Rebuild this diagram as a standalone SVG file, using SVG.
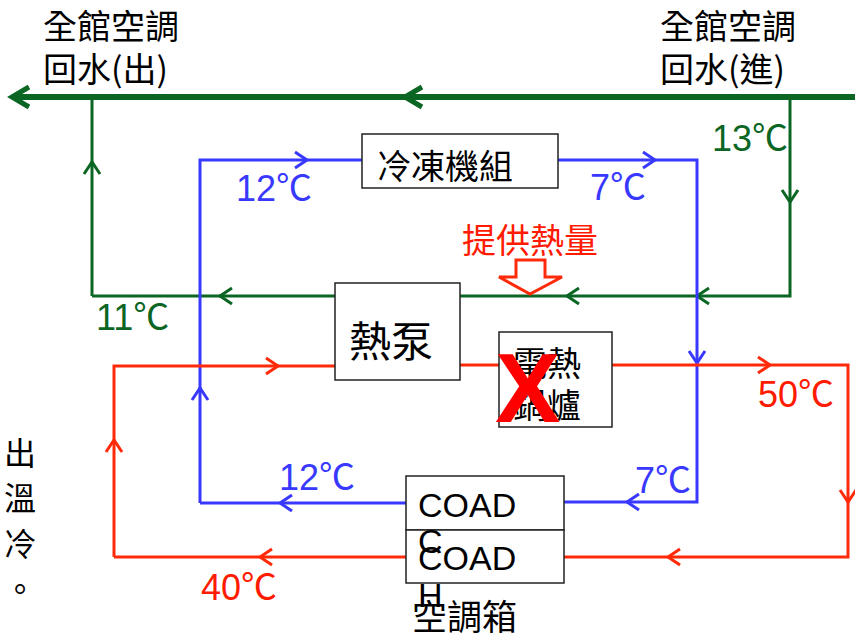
<svg xmlns="http://www.w3.org/2000/svg" width="855" height="636" viewBox="0 0 855 636">
<style>
.g{fill:none;stroke:#0b6623;stroke-width:3}
.gm{fill:none;stroke:#0b6623;stroke-width:6}
.b{fill:none;stroke:#3838ff;stroke-width:3}
.r{fill:none;stroke:#ff2a0a;stroke-width:3}
.box{fill:#fff;stroke:#222;stroke-width:1.5}
.cjk{font-family:"Noto Sans CJK TC","Noto Sans CJK SC",sans-serif;fill:#000}
.lat{font-family:"Liberation Sans","Noto Sans CJK TC",sans-serif}
.tg{fill:#0b6623}.tb{fill:#3838ff}.tr{fill:#ff1a00}
</style>
<defs>
<marker id="ag" viewBox="-14 -11 16 22" refX="0" refY="0" markerWidth="16" markerHeight="22" markerUnits="userSpaceOnUse" orient="auto" overflow="visible"><path d="M-12,-8 L0,0 L-12,8" fill="none" stroke="#0b6623" stroke-width="3"/></marker>
<marker id="agm" viewBox="-20 -13 22 26" refX="0" refY="0" markerWidth="22" markerHeight="26" markerUnits="userSpaceOnUse" orient="auto" overflow="visible"><path d="M-17,-10 L0,0 L-17,10" fill="none" stroke="#0b6623" stroke-width="5"/></marker>
<marker id="ab" viewBox="-14 -11 16 22" refX="0" refY="0" markerWidth="16" markerHeight="22" markerUnits="userSpaceOnUse" orient="auto" overflow="visible"><path d="M-12,-8 L0,0 L-12,8" fill="none" stroke="#3838ff" stroke-width="3"/></marker>
<marker id="ar" viewBox="-14 -11 16 22" refX="0" refY="0" markerWidth="16" markerHeight="22" markerUnits="userSpaceOnUse" orient="auto" overflow="visible"><path d="M-12,-8 L0,0 L-12,8" fill="none" stroke="#ff2a0a" stroke-width="3"/></marker>
</defs>
<g id="connectors">
<path class="gm" d="M855 97 H405" marker-end="url(#agm)"/>
<path class="gm" d="M405 97 H12" marker-end="url(#agm)"/>
<path class="g" d="M92 296 V162" marker-end="url(#ag)"/>
<path class="g" d="M92 162 V97"/>
<path class="g" d="M790 97 V202" marker-end="url(#ag)"/>
<path class="g" d="M790 202 V296 H697" marker-end="url(#ag)"/>
<path class="g" d="M697 296 H567" marker-end="url(#ag)"/>
<path class="g" d="M567 296 H460"/>
<path class="g" d="M335 296 H220" marker-end="url(#ag)"/>
<path class="g" d="M220 296 H92"/>
<path class="b" d="M200 503 V388" marker-end="url(#ab)"/>
<path class="b" d="M200 388 V160 H307" marker-end="url(#ab)"/>
<path class="b" d="M307 160 H362"/>
<path class="b" d="M558 160 H655" marker-end="url(#ab)"/>
<path class="b" d="M655 160 H697 V363" marker-end="url(#ab)"/>
<path class="b" d="M697 363 V502 H627" marker-end="url(#ab)"/>
<path class="b" d="M627 502 H564"/>
<path class="b" d="M406 503 H280" marker-end="url(#ab)"/>
<path class="b" d="M280 503 H200"/>
<path class="r" d="M114 557 V440" marker-end="url(#ar)"/>
<path class="r" d="M114 440 V366 H278" marker-end="url(#ar)"/>
<path class="r" d="M278 366 H335"/>
<path class="r" d="M460 365 H499"/>
<path class="r" d="M612 365 H770" marker-end="url(#ar)"/>
<path class="r" d="M770 365 H848 V502" marker-end="url(#ar)"/>
<path class="r" d="M848 502 V557 H668" marker-end="url(#ar)"/>
<path class="r" d="M668 557 H564"/>
<path class="r" d="M406 557 H260" marker-end="url(#ar)"/>
<path class="r" d="M260 557 H114"/>
</g>
<g id="labels">
<text class="cjk" font-size="34" x="43" y="39">全館空調</text>
<text class="cjk" font-size="34" x="43" y="82">回水(出)</text>
<text class="cjk" font-size="34" x="660" y="39">全館空調</text>
<text class="cjk" font-size="34" x="660" y="82">回水(進)</text>
<text class="lat tg" font-size="36" x="712" y="151">13℃</text>
<text class="lat tg" font-size="36" x="96" y="330">11℃</text>
<text class="lat tb" font-size="36" x="236" y="201">12℃</text>
<text class="lat tb" font-size="36" x="590" y="200">7℃</text>
<text class="lat tb" font-size="36" x="279" y="490">12℃</text>
<text class="lat tb" font-size="36" x="635" y="493">7℃</text>
<text class="lat tr" font-size="36" x="758" y="407">50℃</text>
<text class="lat tr" font-size="36" x="201" y="600">40℃</text>
<text class="cjk tr" font-size="34" x="462" y="253" style="fill:#ff1a00">提供熱量</text>
<g class="cjk" font-size="32">
<text x="4" y="465">出</text>
<text x="4" y="510">溫</text>
<text x="4" y="556">冷</text>
<text x="4" y="601">。</text>
</g>
<polygon points="516,260 545,260 545,277 562,277 530,294 499,277 516,277" fill="#fff" stroke="#ff2a0a" stroke-width="3"/>
</g>
<g id="chiller">
<rect class="box" x="362" y="134" width="196" height="54"/>
<text class="cjk" font-size="34" x="377" y="179">冷凍機組</text>
</g>
<g id="heatpump">
<rect class="box" x="335" y="283" width="125" height="97"/>
<text class="cjk" font-size="42" x="349" y="357">熱泵</text>
</g>
<g id="boiler">
<rect class="box" x="499" y="332" width="113" height="95"/>
<text class="cjk" font-size="34" x="513" y="376">電熱</text>
<text class="cjk" font-size="34" x="513" y="418">鍋爐</text>
<text font-family="Liberation Sans, sans-serif" font-weight="bold" font-size="98" fill="#ff0000" x="495" y="422">X</text>
</g>
<g id="coad">
<rect class="box" x="406" y="476" width="158" height="54"/>
<rect class="box" x="406" y="530" width="158" height="53"/>
<g font-family="Liberation Sans, sans-serif" font-size="34" fill="#000">
<text x="418" y="517">COAD</text>
<text x="418" y="553">C</text>
<text x="418" y="570">COAD</text>
<text x="418" y="607">H</text>
</g>
<text class="cjk" font-size="35" x="412" y="630">空調箱</text>
</g>
</svg>
